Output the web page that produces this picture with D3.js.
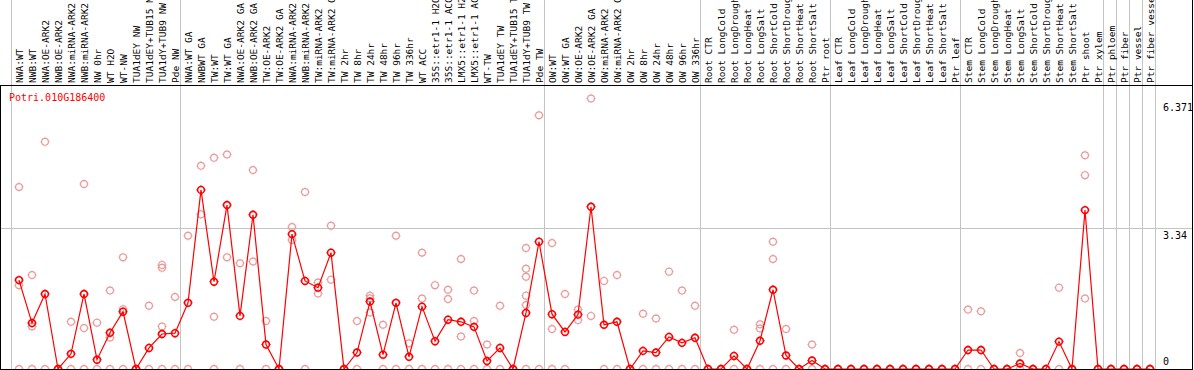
<!DOCTYPE html>
<html>
<head>
<meta charset="utf-8">
<script src="https://cdn.jsdelivr.net/npm/d3@7"></script>
<style>
body { margin: 0; background: #fff; }
svg { display: block; }
text { font-family: "DejaVu Sans Mono", monospace; }
</style>
</head>
<body>
<svg id="canvas" width="1194" height="370"></svg>
<script>
let geneName = 'Potri.010G186400'

let sampleLabels = [
    'NWA:WT', 'NWB:WT', 'NWA:OE-ARK2', 'NWB:OE-ARK2', 'NWA:miRNA-ARK2', 'NWB:miRNA-ARK2',
    'NW 0hr', 'WT H2O', 'WT-NW', 'TUA1dEY NW', 'TUA1dEY+TUB15 NW', 'TUA1dY+TUB9 NW', 'Pde NW',
    'NWA:WT GA', 'NWBWT GA', 'TW:WT', 'TW:WT GA', 'NWA:OE-ARK2 GA', 'NWB:OE-ARK2 GA',
    'TW:OE-ARK2', 'TW:OE-ARK2 GA', 'NWA:miRNA-ARK2 GA', 'NWB:miRNA-ARK2 GA', 'TW:miRNA-ARK2',
    'TW:miRNA-ARK2 GA', 'TW 2hr', 'TW 8hr', 'TW 24hr', 'TW 48hr', 'TW 96hr', 'TW 336hr',
    'WT ACC', '35S::etr1-1 H2O', '35S::etr1-1 ACC', 'LMX5::etr1-1 H2O', 'LMX5::etr1-1 ACC',
    'WT-TW', 'TUA1dEY TW', 'TUA1dEY+TUB15 TW', 'TUA1dY+TUB9 TW', 'Pde TW',
    'OW:WT', 'OW:WT GA', 'OW:OE-ARK2', 'OW:OE-ARK2 GA', 'OW:miRNA-ARK2', 'OW:miRNA-ARK2 GA',
    'OW 2hr', 'OW 8hr', 'OW 24hr', 'OW 48hr', 'OW 96hr', 'OW 336hr',
    'Root CTR', 'Root LongCold', 'Root LongDrought', 'Root LongHeat', 'Root LongSalt',
    'Root ShortCold', 'Root ShortDrought', 'Root ShortHeat', 'Root ShortSalt', 'Ptr root',
    'Leaf CTR', 'Leaf LongCold', 'Leaf LongDrought', 'Leaf LongHeat', 'Leaf LongSalt',
    'Leaf ShortCold', 'Leaf ShortDrought', 'Leaf ShortHeat', 'Leaf ShortSalt', 'Ptr leaf',
    'Stem CTR', 'Stem LongCold', 'Stem LongDrought', 'Stem LongHeat', 'Stem LongSalt',
    'Stem ShortCold', 'Stem ShortDrought', 'Stem ShortHeat', 'Stem ShortSalt', 'Ptr shoot',
    'Ptr xylem', 'Ptr phloem', 'Ptr fiber', 'Ptr vessel', 'Ptr fiber vessel'
]

// mean expression per sample (the dark markers joined by the line)
let meanValues = [
    2.11, 1.09, 1.78, 0, 0.36, 1.78, 0.22, 0.86, 1.36, 0, 0.50, 0.83, 0.85,
    1.57, 4.25, 2.07, 3.89, 1.26, 3.66, 0.58, 0, 3.20, 2.09, 1.93, 2.76, 0,
    0.39, 1.60, 0.34, 1.57, 0.29, 1.48, 0.66, 1.17, 1.12, 1.00, 0.19, 0.50, 0, 1.33, 3.02,
    1.30, 0.88, 1.29, 3.85, 1.05, 1.12, 0, 0.43, 0.39, 0.76, 0.62, 0.74,
    0, 0, 0.31, 0, 0.67, 1.88, 0.32, 0, 0.20, 0,
    0, 0, 0, 0, 0, 0, 0, 0, 0, 0,
    0.45, 0.45, 0, 0, 0.13, 0, 0, 0.65, 0, 3.77,
    0, 0, 0, 0, 0
]

// single replicates (the pale markers)
let replicateValues = [
    [4.32, 1.99, 0], [2.23, 1.01, 0], [5.39, 0], [0], [1.12, 0], [4.39, 0.97, 0],
    [1.10, 0], [1.86, 0.75, 0], [2.65, 1.42, 0], [0], [1.50, 0], [2.47, 2.40, 1.01, 0], [1.71, 0],
    [3.16, 0], [4.82, 3.67], [5.01, 1.24, 0], [5.09, 2.65], [2.51, 0], [4.72, 2.55],
    [1.14, 0], [0], [3.37, 3.06], [4.20, 0], [2.05, 1.79], [3.40, 2.12], [0],
    [1.14, 0], [1.74, 1.68, 1.34], [1.05, 0], [3.16, 0], [0.61, 0], [2.76, 1.67, 0],
    [1.99, 0], [1.88, 1.66, 0], [2.61, 0.77, 0], [1.86, 1.14, 0], [0.58, 0], [1.50, 0], [0],
    [2.87, 2.38, 2.19, 1.74, 1.52, 0], [6.02, 0],
    [2.99, 0.95, 0], [1.78, 0], [1.41, 1.16], [6.42, 1.26], [2.09, 0], [2.23, 0], [0],
    [1.31, 0], [1.20, 0], [2.31, 0], [1.86, 0], [1.50, 0],
    [0], [0], [0.93, 0], [0], [1.06, 0.96, 0], [3.02, 2.61, 0], [0.95, 0], [0], [0.58, 0], [0],
    [0], [0], [0], [0], [0], [0], [0], [0], [0], [0],
    [1.41, 0], [1.37, 0], [0], [0], [0.38, 0], [0], [0], [1.93, 0], [0], [5.07, 4.60, 1.67],
    [0], [0], [0], [0], [0]
]

// indices where a new tissue group starts (vertical grey lines)
let groupStarts = [0, 13, 41, 53, 63, 73, 84, 85, 86, 87, 88]

let tickValues = [0, 3.34, 6.371]

let canvas = d3.select('#canvas')
let width = 1194
let headerBottom = 85.5
let plotBottom = 369

let xScale = d3.scaleBand()
    .domain(d3.range(sampleLabels.length))
    .range([11, 11 + 13 * sampleLabels.length])
    .paddingInner(0)
    .paddingOuter(0)

let pointX = (i) => xScale(i) + 8
let boundaryX = (g) => (g < sampleLabels.length ? xScale(g) : xScale(sampleLabels.length - 1) + xScale.bandwidth()) + 0.5

let yScale = d3.scaleLinear()
    .domain([0, 6.371])
    .range([plotBottom, 100.5])

canvas.append('rect')
    .attr('width', width)
    .attr('height', 370)
    .attr('fill', '#fff')

// grid
canvas.selectAll('.vgrid')
    .data(groupStarts)
    .enter()
    .append('line')
    .attr('class', 'vgrid')
    .attr('x1', (g) => boundaryX(g))
    .attr('x2', (g) => boundaryX(g))
    .attr('y1', 0)
    .attr('y2', plotBottom)
    .attr('stroke', '#c4c4c4')
    .attr('stroke-width', 1)

canvas.selectAll('.hgrid')
    .data(tickValues.filter((v) => v > 0 && v < 6.371))
    .enter()
    .append('line')
    .attr('class', 'hgrid')
    .attr('x1', 0)
    .attr('x2', 1192)
    .attr('y1', (v) => Math.round(yScale(v)) + 0.5)
    .attr('y2', (v) => Math.round(yScale(v)) + 0.5)
    .attr('stroke', '#c4c4c4')
    .attr('stroke-width', 1)

let drawMarker = (sel, color, sw) => {
    sel.append('circle')
        .attr('r', 3.4)
        .attr('fill', 'none')
        .attr('stroke', color)
        .attr('stroke-width', sw)
    ;[[0, -1], [0, 1], [-1, 0], [1, 0]].forEach((d) => {
        sel.append('line')
            .attr('x1', d[0] * 3.8)
            .attr('y1', d[1] * 3.8)
            .attr('x2', d[0] * 4.6)
            .attr('y2', d[1] * 4.6)
            .attr('stroke', color)
            .attr('stroke-width', 1)
    })
}

// replicates
let repPoints = []
replicateValues.forEach((reps, i) => {
    reps.forEach((v) => repPoints.push({ i: i, v: v }))
})

canvas.selectAll('.rep')
    .data(repPoints)
    .enter()
    .append('g')
    .attr('class', 'rep')
    .attr('transform', (d) => 'translate(' + pointX(d.i) + ',' + yScale(d.v) + ')')
    .each(function () { drawMarker(d3.select(this), '#e99a9a', 1.2) })

// mean line
let line = d3.line()
    .x((d, i) => pointX(i))
    .y((d) => yScale(d))

canvas.append('path')
    .datum(meanValues)
    .attr('d', line)
    .attr('fill', 'none')
    .attr('stroke', '#ff0000')
    .attr('stroke-width', 1.2)

canvas.selectAll('.mean')
    .data(meanValues)
    .enter()
    .append('g')
    .attr('class', 'mean')
    .attr('transform', (d, i) => 'translate(' + pointX(i) + ',' + yScale(d) + ')')
    .each(function () { drawMarker(d3.select(this), '#ff0000', 1.6) })

// header labels
canvas.selectAll('.sample')
    .data(sampleLabels)
    .enter()
    .append('text')
    .attr('class', 'sample')
    .attr('transform', (d, i) => 'translate(' + (pointX(i) + 3.5) + ',83) rotate(-90)')
    .attr('font-size', '9.5px')
    .attr('fill', '#000')
    .text((d) => d)

// borders
let borders = [
    [0, headerBottom, 1193, headerBottom],
    [0.5, headerBottom, 0.5, 370],
    [0, plotBottom + 0.5, 1193, plotBottom + 0.5],
    [1192.5, 0, 1192.5, 370]
]
canvas.selectAll('.border')
    .data(borders)
    .enter()
    .append('line')
    .attr('x1', (d) => d[0])
    .attr('y1', (d) => d[1])
    .attr('x2', (d) => d[2])
    .attr('y2', (d) => d[3])
    .attr('stroke', '#000')
    .attr('stroke-width', 1)

// value labels on the right
canvas.selectAll('.tick')
    .data(tickValues)
    .enter()
    .append('text')
    .attr('class', 'tick')
    .attr('x', 1163)
    .attr('y', (v) => v === 0 ? yScale(v) - 4 : yScale(v) + 10.5)
    .attr('font-size', '10px')
    .attr('fill', '#000')
    .text((v) => v)

canvas.append('text')
    .attr('x', 9)
    .attr('y', 101)
    .attr('font-size', '10px')
    .attr('fill', '#ff0000')
    .text(geneName)
</script>
</body>
</html>
